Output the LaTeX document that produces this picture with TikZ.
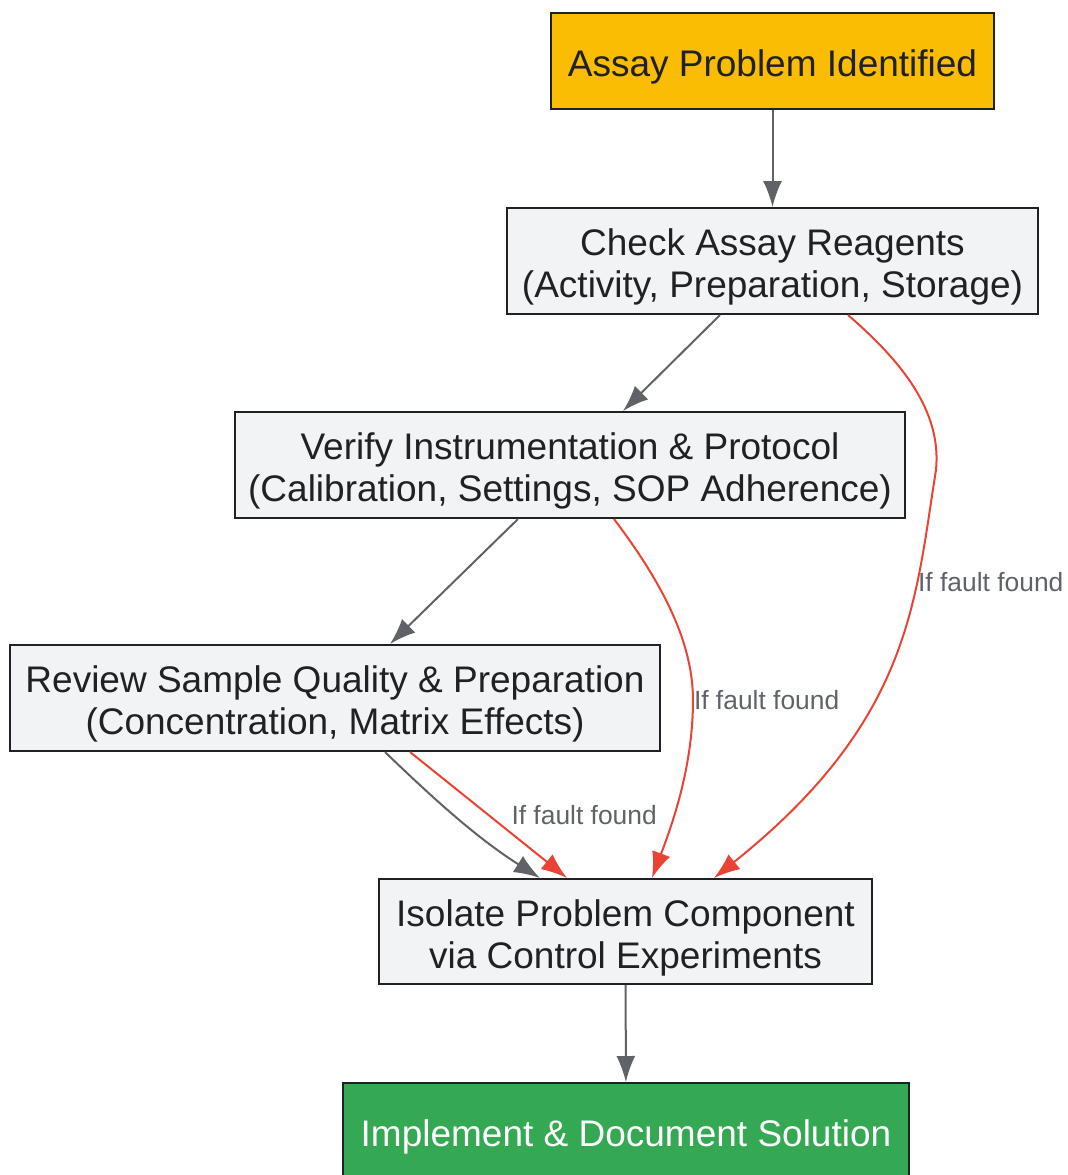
\documentclass[tikz,border=0pt]{standalone}
\usepackage{fontspec}
\setmainfont{Liberation Sans}
\usetikzlibrary{arrows.meta,calc}
\definecolor{startyellow}{HTML}{FBBC04}
\definecolor{stepgrey}{HTML}{F1F3F4}
\definecolor{donegreen}{HTML}{34A853}
\definecolor{faultred}{HTML}{EA4335}
\definecolor{flowgrey}{HTML}{5F6368}
\definecolor{inkdark}{HTML}{202124}
\newcommand{\boxstrut}{\rule{0pt}{19.5pt}}
\begin{document}
\begin{tikzpicture}[x=0.5pt,y=-0.5pt,
	box/.style={draw=inkdark,line width=1pt,fill=stepgrey,text=inkdark,align=center,inner sep=0pt,font=\fontsize{18.5}{21}\selectfont},
	flow/.style={-{Latex[length=13pt,width=9.5pt]},flowgrey,line width=1pt},
	fault/.style={-{Latex[length=13pt,width=9.5pt]},faultred,line width=1pt},
	lbl/.style={text=flowgrey,inner sep=0pt,font=\fontsize{13.2}{15}\selectfont}]
	\useasboundingbox (0,0) rectangle (1068,1175);
		\node[box,fill=startyellow,minimum width=221.5pt,minimum height=48pt] (problem) at (772.5,61) {\boxstrut Assay Problem Identified};
		\node[box,minimum width=265.5pt,minimum height=53pt] (reagents) at (772.5,261) {\boxstrut Check Assay Reagents\\(Activity, Preparation, Storage)};
		\node[box,minimum width=335pt,minimum height=53pt] (instrument) at (570,465) {\boxstrut Verify Instrumentation \& Protocol\\(Calibration, Settings, SOP Adherence)};
		\node[box,minimum width=325pt,minimum height=53pt] (sample) at (335,698) {\boxstrut Review Sample Quality \& Preparation\\(Concentration, Matrix Effects)};
		\node[box,minimum width=246.5pt,minimum height=52.5pt] (isolate) at (625.5,931.5) {\boxstrut Isolate Problem Component\\via Control Experiments};
		\node[box,fill=donegreen,text=white,minimum width=283pt,minimum height=48pt] (solution) at (626,1131) {\boxstrut Implement \& Document Solution};
		\draw[flow] (problem) -- (reagents);
		\draw[flow] ($(reagents.south)+(-52.5,0)$) -- ($(instrument.north)+(53,0)$);
		\draw[flow] ($(instrument.south)+(-52,0)$) -- ($(sample.north)+(55,0)$);
		\draw[flow] ($(sample.south)+(50,0)$) .. controls (440,805) and (480,840) .. ($(isolate.north)+(-85.5,0)$);
		\draw[fault] ($(sample.south)+(75,0)$) -- node[lbl,pos=0.5,anchor=west,xshift=11pt] (faultsample) {If fault found} ($(isolate.north)+(-58.5,0)$);
		\draw[fault] ($(instrument.south)+(44,0)$) .. controls (660,580) and (693,640) .. (693,700) .. controls (693,770) and (670,830) .. node[lbl,pos=0,anchor=west] (faultinstrument) {If fault found} ($(isolate.north)+(26.5,0)$);
		\draw[fault] ($(reagents.south)+(75.5,0)$) .. controls (900,360) and (942,410) .. (936,470) .. controls (915,600) and (912,720) .. node[lbl,pos=0.29,anchor=west] (faultreagents) {If fault found} ($(isolate.north)+(88.5,0)$);
		\draw[flow] (isolate) -- (solution);
	\end{tikzpicture}
\end{document}
